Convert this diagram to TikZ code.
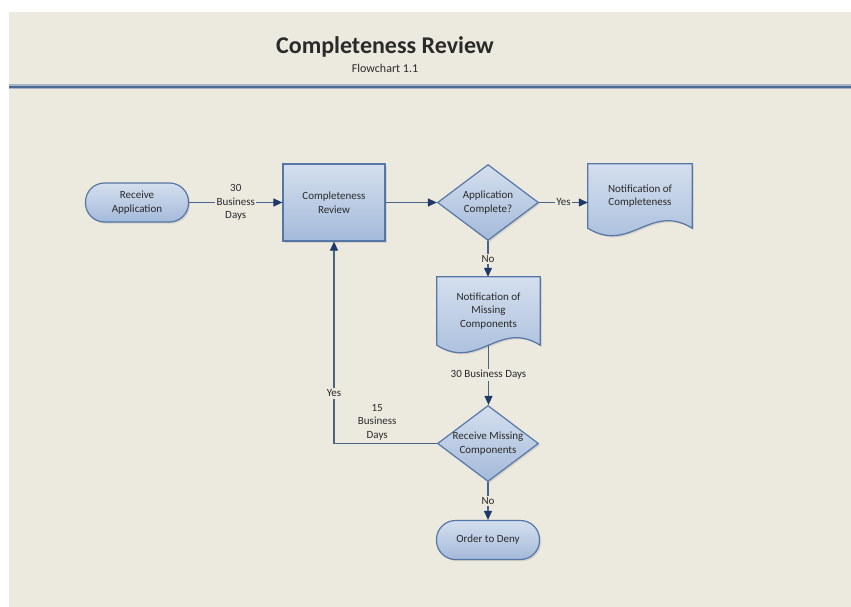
\documentclass[tikz,border=0pt]{standalone}
\usepackage{fontspec}
\setmainfont{Carlito}
\usetikzlibrary{shapes.geometric, arrows.meta, shadows, calc, backgrounds}
\definecolor{bg}{HTML}{ECE9DF}
\definecolor{rulec}{HTML}{4D6891}
\definecolor{rulelt}{HTML}{A9B6CA}
\definecolor{edgec}{HTML}{5676A5}
\definecolor{ftop}{HTML}{D4DFEE}
\definecolor{fbot}{HTML}{A4BADA}
\definecolor{linec}{HTML}{4A6389}
\definecolor{tipc}{HTML}{1F3A68}
\definecolor{txt}{HTML}{2A2A2A}
\newcommand{\DocShape}[1]{%
  \path[docfill] (#1.north west) -- (#1.north east) -- (#1.south east)
    .. controls ($(#1.south east)!0.4!(#1.south west)+(0,-26)$) and ($(#1.south east)!0.6!(#1.south west)+(0,26)$) .. (#1.south west) -- cycle;}
\begin{document}
\begin{tikzpicture}[x=1pt,y=-1pt,
  every node/.style={font=\fontsize{11}{13.5}\selectfont, text=txt},
  shade/.style={draw=edgec, line width=1.2pt, top color=ftop, bottom color=fbot,
    drop shadow={opacity=0.22, shadow xshift=1.6pt, shadow yshift=-1.6pt}},
  base/.style={shade, align=center, inner sep=0pt},
  pill/.style={base, rectangle, rounded corners=19pt, minimum width=103pt, minimum height=39pt},
  procbox/.style={base, rectangle, minimum width=102pt, minimum height=77pt},
  decision/.style={base, diamond, aspect=1.33, minimum width=101pt, minimum height=76pt},
  doctext/.style={rectangle, align=center, minimum width=103pt, inner sep=0pt},
  docfill/.style={shade},
  arr/.style={draw=linec, line width=1.1pt, -{Triangle[length=9pt,width=8pt,color=tipc]}},
  lbl/.style={fill=bg, inner sep=1.5pt, align=center}
]
\useasboundingbox (0,0) rectangle (851,607);

% title
\node (title) at (385,47) {\fontsize{24}{28}\selectfont\bfseries Completeness Review};
\node (subtitle) at (385,68) {\fontsize{12}{14}\selectfont Flowchart 1.1};

% nodes
\node[pill] (rec) at (137,202.5) {Receive\\Application};
\node[procbox] (cr) at (334,202.5) {Completeness\\Review};
\node[decision] (d1) at (488,202.5) {Application\\Complete?};
\node[doctext, minimum width=104pt, minimum height=64pt] (doc1) at (640,196) {Notification of\\Completeness};
\node[doctext, minimum height=68pt] (doc2) at (488.5,311) {Notification of\\Missing\\Components};
\node[decision] (d2) at (488,443.5) {Receive Missing\\Components};
\node[pill] (deny) at (488,540) {Order to Deny};

\begin{scope}[on background layer]
  \fill[white] (0,0) rectangle (851,607);
  \fill[bg] (9,12) rectangle (851,607);
  \draw[rulelt, line width=5pt] (9,87) -- (851,87);
  \draw[rulec, line width=2.2pt] (9,87) -- (851,87);
  \DocShape{doc1}
  \DocShape{doc2}
\end{scope}

% connectors
\draw[arr] (rec) -- node[lbl]{30\\Business\\Days} (cr);
\draw[arr] (cr) -- (d1);
\draw[arr] (d1.east) -- node[lbl]{Yes} (d1.east -| doc1.west);
\draw[arr] (d1.south) -- node[lbl]{No} (d1.south |- doc2.north);
\draw[arr] (doc2.south) -- node[lbl]{30 Business Days} (doc2.south |- d2.north);
\draw[arr] (d2.west) -| node[pos=0.29, above, align=center, inner sep=3pt]{15\\Business\\Days}
   node[lbl, pos=0.624]{Yes} (cr.south);
\draw[arr] (d2.south) -- node[lbl]{No} (deny.north);
\end{tikzpicture}
\end{document}
